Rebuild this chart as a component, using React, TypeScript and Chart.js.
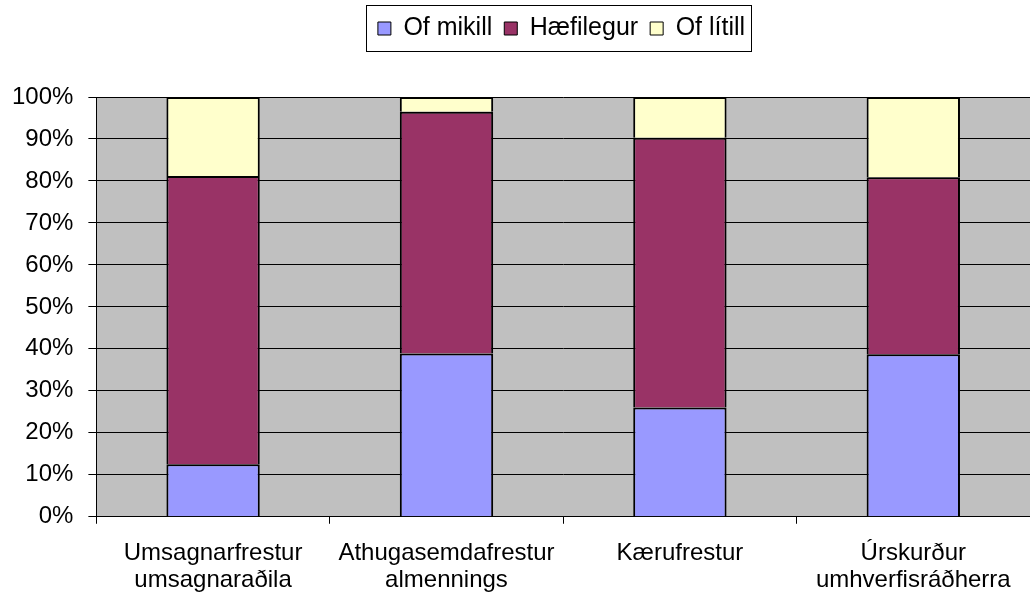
import React, { useEffect, useRef } from "react";
import { Chart, registerables } from "chart.js";

Chart.register(...registerables);

const categories: string[][] = [
  ["Umsagnarfrestur", "umsagnaraðila"],
  ["Athugasemdafrestur", "almennings"],
  ["Kærufrestur"],
  ["Úrskurður", "umhverfisráðherra"],
];
const seriesNames = ["Of mikill", "Hæfilegur", "Of lítill"];
const ofMikill = [12.5, 38.9, 26.0, 38.7];
const haefilegur = [68.7, 57.6, 64.3, 42.2];
const ofLitill = [18.8, 3.5, 9.7, 19.1];
const seriesColors = ["#9999FF", "#993366", "#FFFFCC"];
const yTicks = [0, 10, 20, 30, 40, 50, 60, 70, 80, 90, 100];

const FONT = '"Liberation Sans", Arial, sans-serif';
const LEGEND_EXTRA = 46;
const LEGEND_SHIFT = 48;

export default function App() {
  const ref = useRef<HTMLCanvasElement | null>(null);

  useEffect(() => {
    document.body.style.margin = "0";
    const canvas = ref.current;
    if (!canvas) return;

    const plotBg = {
      id: "plotBg",
      beforeDraw(chart: any) {
        const { ctx, chartArea } = chart;
        ctx.save();
        ctx.fillStyle = "#C0C0C0";
        ctx.fillRect(chartArea.left, chartArea.top, chartArea.right - chartArea.left, chartArea.bottom - chartArea.top);
        ctx.restore();
      },
    };

    const legendTweak = {
      id: "legendTweak",
      beforeInit(chart: any) {
        const legend = chart.legend;
        if (!legend) return;
        const origFit = legend.fit;
        legend.fit = function () {
          origFit.call(this);
          this.height += LEGEND_EXTRA;
        };
      },
      afterLayout(chart: any) {
        const legend = chart.legend;
        if (!legend) return;
        legend.left += LEGEND_SHIFT;
        legend.right += LEGEND_SHIFT;
      },
      afterDraw(chart: any) {
        const legend = chart.legend;
        if (!legend || !legend.legendHitBoxes || !legend.legendHitBoxes.length) return;
        const hb = legend.legendHitBoxes;
        const first = hb[0];
        const last = hb[hb.length - 1];
        const left = Math.round(first.left - 12) + 0.5;
        const right = Math.round(last.left + last.width + 6) + 0.5;
        const top = Math.round(first.top - 11) + 0.5;
        const bottom = Math.round(first.top + first.height + 10) + 0.5;
        const { ctx } = chart;
        ctx.save();
        ctx.strokeStyle = "#000";
        ctx.lineWidth = 1;
        ctx.strokeRect(left, top, right - left, bottom - top);
        ctx.restore();
      },
    };

    const values = [ofMikill, haefilegur, ofLitill];
    const chart = new Chart(canvas, {
      type: "bar",
      data: {
        labels: categories,
        datasets: seriesNames.map((name, i) => ({
          label: name,
          data: values[i],
          backgroundColor: seriesColors[i],
          borderColor: "#000",
          borderWidth: 2,
          barPercentage: 0.4,
          categoryPercentage: 1,
        })),
      },
      options: {
        responsive: false,
        animation: false,
        layout: { padding: { left: -3, top: 4, right: 0, bottom: -13 } },
        plugins: {
          tooltip: { enabled: false },
          legend: {
            display: true,
            position: "top",
            labels: {
              color: "#000",
              font: { family: FONT, size: 25 },
              boxWidth: 13,
              boxHeight: 13,
              padding: 12,
              generateLabels: (c: any) =>
                Chart.defaults.plugins.legend.labels
                  .generateLabels(c)
                  .map((l: any) => ({ ...l, lineWidth: 1, strokeStyle: "#000" })),
            },
          },
        },
        scales: {
          x: {
            stacked: true,
            grid: {
              display: true,
              drawOnChartArea: false,
              drawTicks: true,
              tickLength: 7,
              color: "#000",
              offset: true,
            },
            border: { display: true, color: "#000", width: 1 },
            ticks: {
              color: "#000",
              font: { family: FONT, size: 24, lineHeight: 1.13 },
              padding: 16,
              maxRotation: 0,
              autoSkip: false,
            },
          },
          y: {
            stacked: true,
            min: 0,
            max: 100,
            afterBuildTicks: (axis: any) => {
              axis.ticks = yTicks.map((v) => ({ value: v }));
            },
            grid: {
              color: "#000",
              lineWidth: 1,
              tickLength: 8,
              drawTicks: true,
            },
            border: { display: true, color: "#000", width: 1 },
            ticks: {
              color: "#000",
              font: { family: FONT, size: 24 },
              padding: 15,
              callback: (v: any) => `${v}%`,
            },
          },
        },
      },
      plugins: [plotBg, legendTweak],
    } as any);

    return () => chart.destroy();
  }, []);

  return (
    <div style={{ position: "absolute", left: 0, top: 0, width: 1030, height: 597, overflow: "hidden" }}>
      <canvas ref={ref} width={1030} height={597} />
    </div>
  );
}
